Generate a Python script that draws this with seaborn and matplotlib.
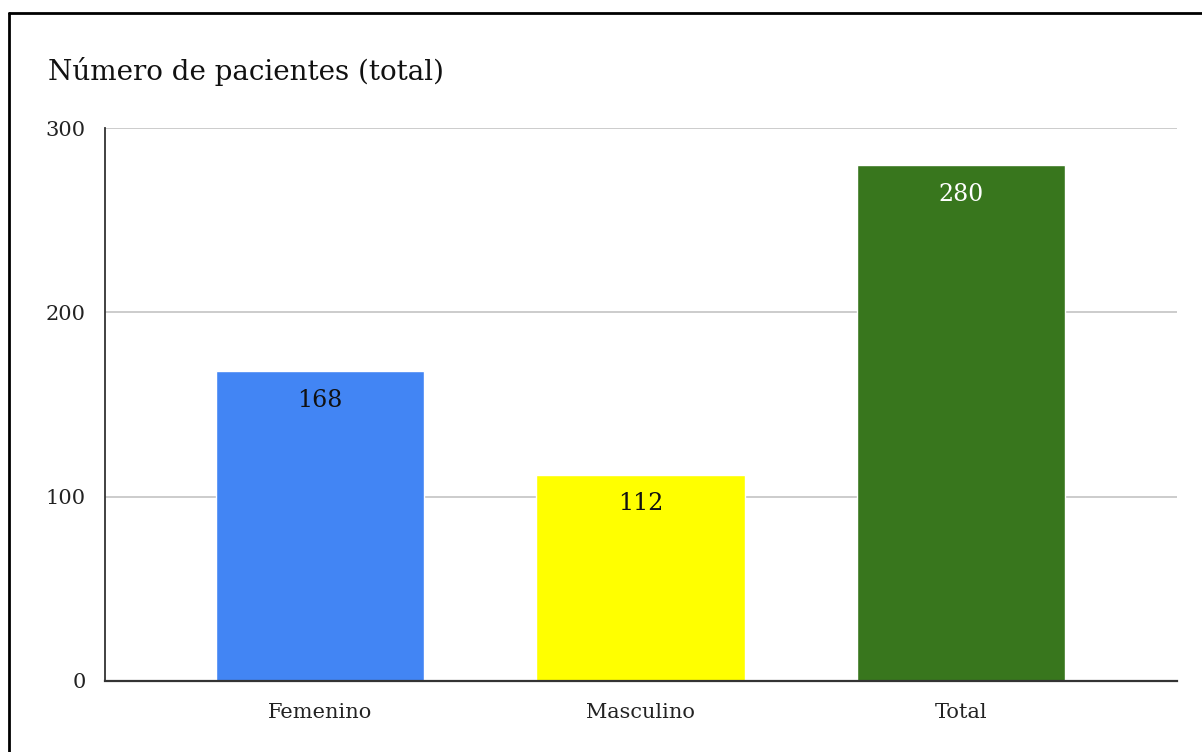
import matplotlib
matplotlib.use("Agg")
import matplotlib.pyplot as plt
from matplotlib.lines import Line2D
import seaborn as sns
import pandas as pd

# Patient counts by group
categories = ["Femenino", "Masculino", "Total"]
patients = [168, 112, 280]
bar_colors = ["#4285F4", "#FFFF00", "#38761D"]
label_colors = ["#111111", "#111111", "#FFFFFF"]
y_ticks = [0, 100, 200, 300]

sns.set_theme(style="white")
plt.rcParams["font.family"] = ["DejaVu Serif"]

df = pd.DataFrame({"grupo": categories, "pacientes": patients})

fig = plt.figure(figsize=(12.02, 7.52), dpi=100)
ax = fig.add_axes([105 / 1202, 71 / 752, (1177 - 105) / 1202, (681 - 128) / 752])

sns.barplot(data=df, x="grupo", y="pacientes", hue="grupo",
            palette=bar_colors, width=0.65, legend=False, ax=ax,
            saturation=1, zorder=3)

ax.set_xlim(-0.672, 2.675)
ax.set_ylim(0, 300)
ax.set_yticks(y_ticks)
ax.set_yticklabels([str(t) for t in y_ticks])
ax.set_xlabel("")
ax.set_ylabel("")

ax.yaxis.grid(True, color="#C8C8C8", linewidth=1.3, zorder=0)
ax.xaxis.grid(False)
for side in ("top", "right"):
    ax.spines[side].set_visible(False)
ax.spines["left"].set_color("#333333")
ax.spines["left"].set_linewidth(1.3)
ax.spines["bottom"].set_color("#333333")
ax.spines["bottom"].set_linewidth(1.6)
ax.spines["bottom"].set_zorder(5)

ax.tick_params(axis="y", length=0, pad=14, labelsize=15, labelcolor="#222222")
ax.tick_params(axis="x", length=0, pad=16, labelsize=15, labelcolor="#222222")

# Value labels inside the top of each bar
for i, (v, c) in enumerate(zip(patients, label_colors)):
    ax.annotate(str(v), xy=(i, v), xytext=(0, -21), textcoords="offset points",
                ha="center", va="center", fontsize=17, color=c, zorder=6)

fig.text(48 / 1202, 1 - 72 / 752, "Número de pacientes (total)",
         ha="left", va="center", fontsize=20, color="#111111")

# Frame around the chart (top and left edges)
fig.add_artist(Line2D([8.5 / 1202, 8.5 / 1202], [0, 1 - 12.5 / 752],
                      transform=fig.transFigure, color="black", linewidth=2))
fig.add_artist(Line2D([8.5 / 1202, 1.0], [1 - 12.5 / 752, 1 - 12.5 / 752],
                      transform=fig.transFigure, color="black", linewidth=2))

fig.savefig("out.png", dpi=100, facecolor="white")
